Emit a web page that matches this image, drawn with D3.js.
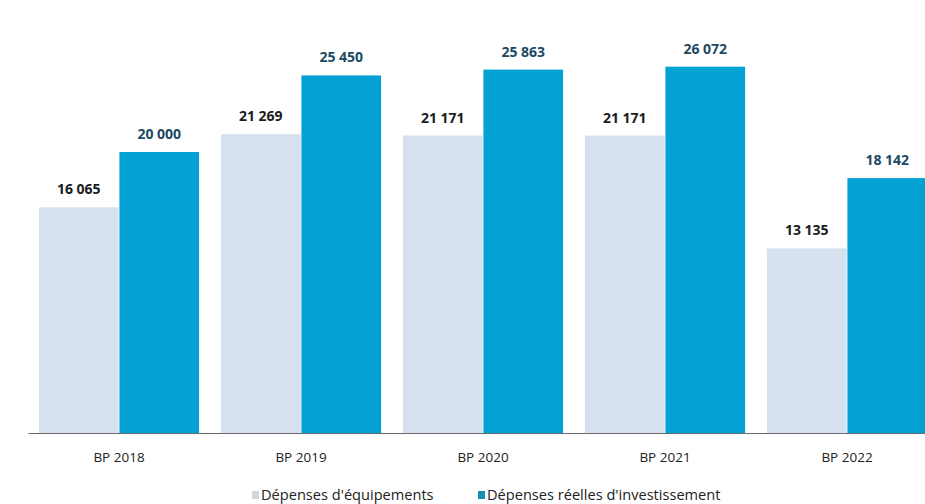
<!DOCTYPE html>
<html>
<head>
<meta charset="utf-8">
<script src="https://cdn.jsdelivr.net/npm/d3@7"></script>
<style>
  html, body { margin: 0; padding: 0; background: #fff; overflow: hidden; }
  svg { display: block; font-family: "Open Sans", "Noto Sans", sans-serif; }
</style>
</head>
<body>
<svg id="chart" width="925" height="504"></svg>
<script>
// Budget lines (BP) and the two spending series, in k€
const categories = ["BP 2018", "BP 2019", "BP 2020", "BP 2021", "BP 2022"];
const equipements = [16065, 21269, 21171, 21171, 13135];
const investissement = [20000, 25450, 25863, 26072, 18142];
const seriesNames = ["Dépenses d'équipements", "Dépenses réelles d'investissement"];
const seriesColors = ["#d6e0ee", "#04a1d5"];
const labelColors = ["#1b1b1b", "#1d4a63"];

const svg = d3.select("#chart");
const baseY = 433;

const x = d3.scaleBand()
  .domain(categories)
  .range([28, 938])
  .paddingInner(0.12)
  .paddingOuter(0.06);

const x1 = d3.scaleBand()
  .domain([0, 1])
  .range([0, x.bandwidth()])
  .paddingInner(0.01);

const y = d3.scaleLinear()
  .domain([0, 20000])
  .range([baseY, 152]);

const fmt = v => d3.format(",")(v).replace(/,/g, " ");

const series = [equipements, investissement];

const groups = svg.append("g")
  .selectAll("g")
  .data(categories)
  .join("g")
  .attr("transform", d => `translate(${x(d)},0)`);

groups.selectAll("rect")
  .data((d, i) => series.map((s, k) => ({ k, v: s[i] })))
  .join("rect")
  .attr("x", d => x1(d.k))
  .attr("width", x1.bandwidth())
  .attr("y", d => y(d.v))
  .attr("height", d => baseY - y(d.v))
  .attr("fill", d => seriesColors[d.k]);

groups.selectAll("text")
  .data((d, i) => series.map((s, k) => ({ k, v: s[i] })))
  .join("text")
  .attr("x", d => x1(d.k) + x1.bandwidth() / 2)
  .attr("y", d => y(d.v) - 13)
  .attr("text-anchor", "middle")
  .attr("font-size", 14)
  .attr("font-weight", 700)
  .attr("fill", d => labelColors[d.k])
  .text(d => fmt(d.v));

// Category axis
const axis = svg.append("g")
  .attr("transform", `translate(0,${baseY})`)
  .call(d3.axisBottom(x).tickSize(0).tickPadding(19));
axis.select(".domain").attr("stroke", "#6a6a6a").attr("stroke-width", 1.2);
axis.selectAll("text")
  .attr("font-size", 13.5)
  .attr("fill", "#222")
  .attr("font-family", "'Open Sans', sans-serif");

// Legend
const legendX = [252, 478];
const legend = svg.append("g")
  .selectAll("g")
  .data(seriesNames)
  .join("g")
  .attr("transform", (d, i) => `translate(${legendX[i]},495)`);
legend.append("rect")
  .attr("x", 0).attr("y", -4)
  .attr("width", 7).attr("height", 8)
  .attr("fill", (d, i) => i === 0 ? "#d3d7de" : "#1a8fb0");
legend.append("text")
  .attr("x", 9)
  .attr("y", 0)
  .attr("dy", "0.35em")
  .attr("font-size", 14.6)
  .attr("fill", "#222")
  .text(d => d);
</script>
</body>
</html>
